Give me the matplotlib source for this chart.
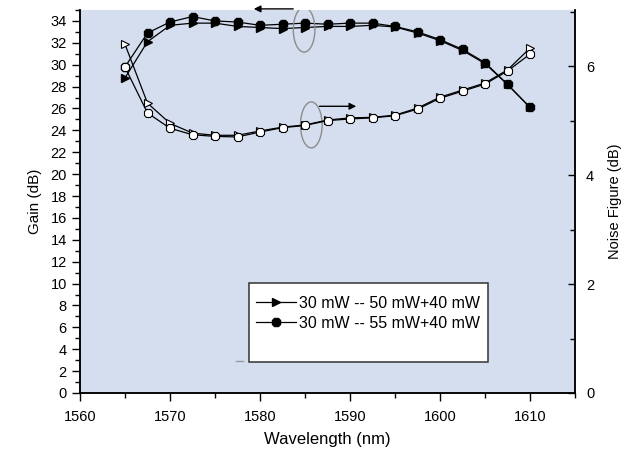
import matplotlib
matplotlib.use("Agg")
import matplotlib.pyplot as plt
from matplotlib.patches import Ellipse, Rectangle
from matplotlib.lines import Line2D
from matplotlib.ticker import MultipleLocator

plt.rcParams['font.family'] = ['Liberation Sans', 'DejaVu Sans']

wavelength = [1565, 1567.5, 1570, 1572.5, 1575, 1577.5, 1580, 1582.5, 1585, 1587.5,
              1590, 1592.5, 1595, 1597.5, 1600, 1602.5, 1605, 1607.5, 1610]
gain_50 = [28.8, 32.1, 33.6, 33.8, 33.8, 33.5, 33.4, 33.3, 33.4, 33.5,
           33.5, 33.6, 33.45, 32.9, 32.2, 31.3, 30.1, 28.2, 26.1]
gain_55 = [29.8, 32.9, 33.9, 34.4, 34.0, 33.9, 33.6, 33.7, 33.8, 33.7,
           33.8, 33.8, 33.5, 33.0, 32.3, 31.4, 30.2, 28.2, 26.1]
nf_50 = [6.40, 5.32, 4.95, 4.77, 4.73, 4.73, 4.81, 4.88, 4.92, 5.01,
         5.05, 5.06, 5.10, 5.23, 5.43, 5.56, 5.69, 5.93, 6.33]
nf_55 = [5.98, 5.14, 4.86, 4.74, 4.71, 4.70, 4.79, 4.87, 4.91, 5.00,
         5.03, 5.05, 5.09, 5.21, 5.41, 5.54, 5.67, 5.91, 6.22]
labels = ["30 mW -- 50 mW+40 mW", "30 mW -- 55 mW+40 mW"]

W, H = 625, 449
top_px, bot_px = 10, 393
fig = plt.figure(figsize=(6.25, 4.49), dpi=100)
ax = fig.add_axes([80 / W, 1 - bot_px / H, (575 - 80) / W, (bot_px - top_px) / H])
ax.set_facecolor('#d4deef')
ax2 = ax.twinx()

lw = 0.9
ms = 6
ax.plot(wavelength, gain_50, color='black', lw=lw, marker='>', ms=ms,
        mfc='black', mec='black', label=labels[0], zorder=3)
ax.plot(wavelength, gain_55, color='black', lw=lw, marker='8', ms=ms,
        mfc='black', mec='black', label=labels[1], zorder=3)
ax2.plot(wavelength, nf_50, color='black', lw=lw, marker='>', ms=ms,
         mfc='white', mec='black', mew=0.8, zorder=3)
ax2.plot(wavelength, nf_55, color='black', lw=lw, marker='8', ms=ms,
         mfc='white', mec='black', mew=0.8, zorder=3)

ax.set_xlim(1560, 1615)
ax.set_ylim(0, 35.0)
ax2.set_ylim(0, 7.03)

ax.xaxis.set_major_locator(MultipleLocator(10))
ax.xaxis.set_minor_locator(MultipleLocator(5))
ax.yaxis.set_major_locator(MultipleLocator(2))
ax.yaxis.set_minor_locator(MultipleLocator(1))
ax2.yaxis.set_major_locator(MultipleLocator(2))
ax2.yaxis.set_minor_locator(MultipleLocator(1))

for a in (ax, ax2):
    a.spines['top'].set_visible(False)
    for s in ('left', 'right', 'bottom'):
        a.spines[s].set_linewidth(1.1)
ax.tick_params(axis='both', which='major', direction='out', length=6, width=1, labelsize=10.5)
ax.tick_params(axis='both', which='minor', direction='out', length=3.5, width=1)
ax.tick_params(axis='x', which='major', pad=6)
ax2.tick_params(axis='y', which='major', direction='in', length=5, width=1, labelsize=10.5, pad=8)
ax2.tick_params(axis='y', which='minor', direction='in', length=3.5, width=1)

ax.set_xlabel('Wavelength (nm)', fontsize=12, labelpad=6)
ax.set_ylabel('Gain (dB)', fontsize=11, labelpad=6)
ax2.set_ylabel('Noise Figure (dB)', fontsize=10.5, labelpad=10)

# ellipses and arrows
ax.add_patch(Ellipse((1584.9, 33.2), 2.4, 4.1, fill=False, ec='#8c8c8c', lw=1, zorder=4))
ax.add_patch(Ellipse((1585.7, 24.5), 2.4, 4.2, fill=False, ec='#8c8c8c', lw=1, zorder=4))
ax.annotate('', xy=(1579.0, 35.1), xytext=(1584.0, 35.1),
            arrowprops=dict(arrowstyle='-|>', color='black', lw=1, mutation_scale=10),
            annotation_clip=False)
ax.annotate('', xy=(1591.0, 26.2), xytext=(1586.3, 26.2),
            arrowprops=dict(arrowstyle='-|>', color='black', lw=1, mutation_scale=10),
            annotation_clip=False)

# legend box
box = Rectangle((249 / W, 1 - 362 / H), (488 - 249) / W, (362 - 283) / H,
                transform=fig.transFigure, facecolor='white', edgecolor='#333333',
                lw=1.1, zorder=5)
fig.add_artist(box)
fig.add_artist(Line2D([236 / W, 243 / W], [1 - 361 / H, 1 - 361 / H],
                      transform=fig.transFigure, color='#999999', lw=1))
h, l = ax.get_legend_handles_labels()
leg = fig.legend(h, l, loc='upper left', bbox_to_anchor=(256 / W, 1 - 296 / H),
                 frameon=False, fontsize=11.5, handlelength=2.5, handletextpad=0.2,
                 labelspacing=0.3, borderaxespad=0, borderpad=0.0)
leg.set_zorder(6)

fig.savefig('out.png', dpi=100)
